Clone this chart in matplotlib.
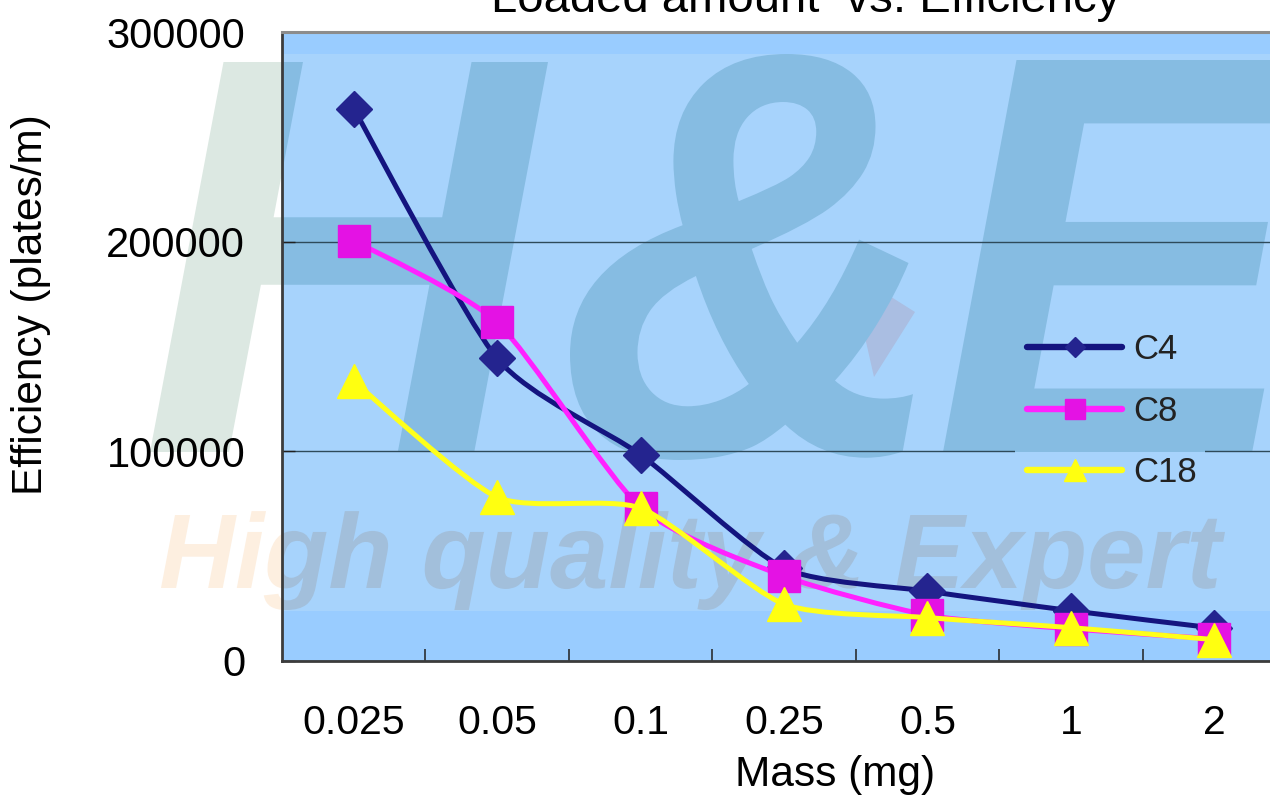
import numpy as np
import matplotlib
matplotlib.use('Agg')
import matplotlib.pyplot as plt
from matplotlib.path import Path
from matplotlib.patches import PathPatch, Rectangle
from matplotlib.textpath import TextPath
from matplotlib.font_manager import FontProperties
from matplotlib.transforms import Affine2D
from matplotlib.lines import Line2D

plt.rcParams['font.family'] = ['Liberation Sans', 'DejaVu Sans']

W, H = 1270, 797

# loaded mass (mg) and column efficiency (plates/m)
masses = ['0.025', '0.05', '0.1', '0.25', '0.5', '1', '2']
c4 = [263500, 144300, 98400, 44300, 33300, 24000, 15700]
c8 = [200500, 161500, 73200, 40500, 21900, 15300, 10600]
c18 = [133400, 78100, 72900, 27100, 20700, 15900, 10200]
series_names = ['C4', 'C8', 'C18']
yticks = [0, 100000, 200000, 300000]

BAND = '#99CCFF'
MID = '#A7D3FC'
TENSION = 0.11


def smooth_path(xs, ys):
    # cardinal spline through the points, drawn as cubic beziers
    n = len(xs)
    verts = [(xs[0], ys[0])]
    codes = [Path.MOVETO]
    for i in range(n - 1):
        i0, i3 = max(i - 1, 0), min(i + 2, n - 1)
        c1 = (xs[i] + (xs[i + 1] - xs[i0]) * TENSION,
              ys[i] + (ys[i + 1] - ys[i0]) * TENSION)
        c2 = (xs[i + 1] - (xs[i3] - xs[i]) * TENSION,
              ys[i + 1] - (ys[i3] - ys[i]) * TENSION)
        verts += [c1, c2, (xs[i + 1], ys[i + 1])]
        codes += [Path.CURVE4] * 3
    return Path(verts, codes)


logo_font = FontProperties(family='Liberation Sans', weight='bold', style='italic')


def glyphs(text, x0, ytop, ybot, x1=None, sx=None):
    # text outline placed in a pixel box, returned in figure fraction units
    tp = TextPath((0, 0), text, size=1, prop=logo_font)
    ext = tp.get_extents()
    sy = (ybot - ytop) / ext.height
    if sx is None:
        sx = (x1 - x0) / ext.width
    tr = (Affine2D().translate(-ext.x0, -ext.y0).scale(sx, sy)
          .translate(x0, H - ybot).scale(1 / W, 1 / H))
    return tr.transform_path(tp), sx


def slogan(text, x0, x1, cap_top, baseline):
    tp = TextPath((0, 0), text, size=1, prop=logo_font)
    ext = tp.get_extents()
    cap = TextPath((0, 0), 'H', size=1, prop=logo_font).get_extents().height
    tr = (Affine2D().translate(-ext.x0, 0)
          .scale((x1 - x0) / ext.width, (baseline - cap_top) / cap)
          .translate(x0, H - baseline).scale(1 / W, 1 / H))
    return tr.transform_path(tp)


path_h, sx_h = glyphs('H', 150, 62, 452, x1=548)
path_amp, _ = glyphs('&', 570, 54, 460, x1=913)
path_e, _ = glyphs('E', 943, 60, 452, sx=sx_h)
path_slogan = slogan('High quality & Expert', 161, 1225, 515, 588)
mark = np.array([(850, 271), (915, 312), (874, 377), (809, 336)], float)
path_mark = Path(np.column_stack([mark[:, 0] / W, 1 - mark[:, 1] / H]), closed=True)


def watermark(big, small, red):
    return [(path_mark, red), (path_h, big), (path_amp, big),
            (path_e, big), (path_slogan, small)]


fig = plt.figure(figsize=(W / 100, H / 100), dpi=100)
ax = fig.add_axes([282 / W, 136 / H, 1004 / W, 629 / H])
ax.set_facecolor(BAND)
ax.set_axisbelow('line')

# logo outside the plot area (under the axes)
for p, c in watermark('#DCE8E2', '#FDEFE0', '#F2DADA'):
    fig.add_artist(PathPatch(p, fc=c, ec='none', transform=fig.transFigure, zorder=-1))

ax.add_patch(Rectangle((0, 50 / 629), 1, (629 - 50 - 22) / 629, transform=ax.transAxes,
                       fc=MID, ec='none', zorder=0.2))

# logo inside the plot area
for p, c in watermark('#86BCE2', '#A2BFDB', '#AABEE2'):
    ax.add_patch(PathPatch(p, fc=c, ec='none', transform=fig.transFigure, zorder=1))

# legend backing hides the gridline under the legend
leg_bg = Rectangle((0.730, 0.230), 0.189, 0.320, transform=ax.transAxes,
                   fc=MID, ec='none', zorder=1.6)
ax.add_patch(leg_bg)
for p, c in watermark('#86BCE2', '#A2BFDB', '#AABEE2'):
    wm = PathPatch(p, fc=c, ec='none', transform=fig.transFigure, zorder=1.7)
    ax.add_patch(wm)
    wm.set_clip_path(leg_bg)

x = np.arange(len(masses))
styles = [
    (c4, '#14147F', '#24248F', 'D', 18.5, 10.5),
    (c8, '#FF22FF', '#E412E4', 's', 23, 14.5),
    (c18, '#FFFF1A', '#FFFF10', '^', 24, 16),
]
handles = []
for k, (vals, lc, mc, mk, ms, lms) in enumerate(styles):
    z = 3 + k
    ax.add_patch(PathPatch(smooth_path(x, vals), fill=False, ec=lc, lw=3.6,
                           capstyle='round', joinstyle='round', zorder=z))
    ax.plot(x, vals, linestyle='none', marker=mk, ms=ms, mfc=mc, mec=mc, zorder=z)
    handles.append(Line2D([], [], color=lc, lw=4.6, marker=mk, ms=lms, mfc=mc, mec=mc,
                          solid_capstyle='round'))

ax.set_xlim(-0.5, len(masses) - 0.5)
ax.set_ylim(0, 300000)

ax.set_xticks(x)
ax.set_xticklabels(masses)
ax.set_xticks(np.arange(0.5, len(masses) - 1, 1), minor=True)
ax.tick_params(axis='x', which='major', length=0, pad=31, labelsize=29.5)
ax.tick_params(axis='x', which='minor', direction='in', length=9, width=1.1, color='#202020')
ax.set_yticks(yticks)
ax.set_yticklabels([str(v) for v in yticks])
ax.tick_params(axis='y', direction='in', length=9, width=1.0, pad=26.5, labelsize=30,
               color='#202020')
ax.grid(axis='y', color='#2E4A5A', lw=1.0)

for side in ['left', 'bottom']:
    ax.spines[side].set_color('#3C3C3C')
    ax.spines[side].set_linewidth(2)
ax.spines['top'].set_color('#8C8C8C')
ax.spines['top'].set_linewidth(2.2)

ax.set_xlabel('Mass (mg)', fontsize=30.5)
ax.xaxis.set_label_coords(0.551, -0.149)
ax.set_ylabel('Efficiency (plates/m)', fontsize=30.5)
ax.yaxis.set_label_coords(-0.230, 0.567)

fig.text(806 / W, 1 - 12 / H, 'Loaded amount  vs. Efficiency', ha='center',
         va='baseline', fontsize=34)

leg = ax.legend(handles, series_names, loc='center left', bbox_to_anchor=(0.742, 0.397),
                frameon=False, fontsize=25, handlelength=2.75, handletextpad=0.3,
                labelspacing=0.82, borderpad=0, borderaxespad=0, numpoints=1)
leg.set_zorder(6)
for t in leg.get_texts():
    t.set_color('#222222')

fig.savefig('out.png', dpi=100)
